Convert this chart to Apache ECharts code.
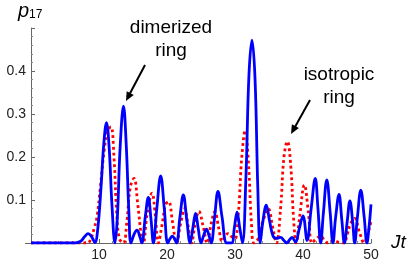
<!DOCTYPE html>
<html>
<head>
<meta charset="utf-8">
<script src="https://cdn.jsdelivr.net/npm/echarts@6/dist/echarts.min.js"></script>
<style>html,body{margin:0;padding:0;background:#fff}#c{width:415px;height:271px}</style>
</head>
<body>
<div id="c"></div>
<script>
// time axis ticks
const xTicks = [10, 20, 30, 40, 50];
const yTicks = [0.1, 0.2, 0.3, 0.4];

// dimerized ring (blue solid): [Jt, p17]
const dimerized = [
  [0,0],[6.5,0],[7.3,0.004],[7.9,0.015],[8.4,0.022],[8.9,0.015],[9.4,0.001],
  [9.8,0.03],[10.3,0.13],[10.7,0.23],[11.1,0.28],[11.5,0.22],[11.9,0.09],[12.35,0],
  [12.7,0.06],[13.1,0.22],[13.6,0.318],[14.0,0.23],[14.4,0.07],[14.7,0],
  [15.2,0.022],[15.6,0.03],[16.0,0.015],[16.3,0],
  [16.8,0.06],[17.25,0.106],[17.65,0.055],[18.0,0],
  [18.5,0.08],[19.07,0.156],[19.6,0.08],[20.1,0],
  [20.45,0.01],[20.8,0.016],[21.1,0.01],[21.4,0],
  [21.9,0.06],[22.4,0.112],[22.9,0.055],[23.4,0],
  [23.8,0.035],[24.2,0.069],[24.6,0.033],[25.0,0],
  [25.4,0.018],[25.8,0.032],[26.2,0.016],[26.5,0],
  [27.0,0.06],[27.5,0.12],[28.1,0.06],[28.8,0],[29.5,0],
  [29.9,0.035],[30.3,0.072],[30.7,0.035],[31.1,0],
  [31.6,0.15],[32.05,0.39],[32.5,0.472],[32.95,0.38],[33.35,0.13],[33.7,0],
  [34.1,0.05],[34.6,0.088],[35.1,0.05],[35.6,0.016],[36.1,0.011],[36.7,0.013],[37.2,0.006],[37.6,0],
  [38.0,0.007],[38.4,0.013],[38.9,0.002],[39.4,0.03],[40.0,0.063],[40.6,0.006],
  [41.2,0.08],[41.8,0.15],[42.2,0.08],[42.6,0],
  [43.0,0.07],[43.5,0.147],[44.0,0.07],[44.4,0],
  [44.8,0.06],[45.3,0.113],[45.7,0.055],[46.1,0],
  [46.5,0.05],[46.9,0.098],[47.3,0.05],[47.6,0],
  [48.0,0.06],[48.5,0.123],[49.0,0.06],[49.4,0],
  [49.7,0.035],[50.0,0.09]
];

// isotropic ring (red dotted): [Jt, p17]
const isotropic = [
  [0,0],[8.3,0],[8.8,0.01],[9.3,0.035],[9.7,0.06],[10.2,0.13],[10.8,0.22],[11.3,0.262],[11.76,0.27],
  [12.2,0.2],[12.6,0.07],[13.0,0.01],[13.6,0],
  [14.1,0.05],[14.6,0.13],[15.15,0.15],[15.7,0.09],[16.2,0.02],[16.5,0],
  [17.1,0.07],[17.8,0.116],[18.3,0.06],[18.7,0],
  [19.3,0.045],[19.8,0.09],[20.25,0.096],[20.8,0.05],[21.4,0],
  [22.0,0.045],[22.6,0.08],[23.1,0.04],[23.6,0],
  [24.1,0.04],[24.7,0.074],[25.3,0.04],[25.9,0],
  [26.5,0.045],[27.05,0.073],[27.6,0.035],[28.1,0.004],
  [28.6,0.018],[29.0,0.022],[29.5,0.015],[30.0,0.01],
  [30.5,0.07],[31.0,0.2],[31.5,0.262],[32.0,0.18],[32.4,0.05],[32.8,0],
  [33.5,0.012],[34.1,0.05],[34.9,0.08],[35.5,0.04],[36.1,0],
  [36.7,0.08],[37.2,0.2],[37.7,0.236],[38.2,0.18],[38.6,0.06],[39.0,0],
  [39.5,0.06],[40.2,0.135],[40.8,0.07],[41.3,0],
  [41.9,0.009],[42.6,0.016],[43.2,0.005],[43.7,0],
  [44.5,0.006],[45.2,0.002],[46.0,0],
  [46.5,0.02],[47.0,0.045],[47.6,0.057],[48.3,0.025],[49.0,0],
  [49.5,0.02],[50.0,0.05]
];

const FONT = '"Liberation Sans", Arial, Helvetica, sans-serif';
const chart = echarts.init(document.getElementById('c'), null, {renderer: 'canvas'});

function arrow(x1, y1, x2, y2) {
  const dx = x2 - x1, dy = y2 - y1, L = Math.hypot(dx, dy);
  const ux = dx / L, uy = dy / L, hl = 9, hw = 4;
  const bx = x2 - ux * hl, by = y2 - uy * hl;
  return [
    {type: 'line', shape: {x1: x1, y1: y1, x2: bx + ux * 2, y2: by + uy * 2}, style: {stroke: '#000', lineWidth: 2}},
    {type: 'polygon', shape: {points: [[x2, y2], [bx - uy * hw, by + ux * hw], [bx + uy * hw, by - ux * hw]]}, style: {fill: '#000'}}
  ];
}

chart.setOption({
  animation: false,
  backgroundColor: '#fff',
  grid: {left: 31, right: 44, top: 28, bottom: 28, containLabel: false},
  xAxis: {
    type: 'value', min: 0, max: 50, interval: 10,
    axisLine: {show: true, onZero: false, lineStyle: {color: '#666', width: 1}},
    axisTick: {show: true, inside: true, length: 4, lineStyle: {color: '#666'}},
    minorTick: {show: true, splitNumber: 5, length: 2, lineStyle: {color: '#888'}},
    splitLine: {show: false},
    axisLabel: {
      color: '#222', fontSize: 14, fontFamily: FONT, margin: 5,
      formatter: v => (xTicks.indexOf(v) >= 0 ? String(v) : '')
    }
  },
  yAxis: {
    type: 'value', min: 0, max: 0.5, interval: 0.1,
    axisLine: {show: true, onZero: false, lineStyle: {color: '#666', width: 1}},
    axisTick: {show: true, inside: true, length: 4, lineStyle: {color: '#666'}},
    minorTick: {show: true, splitNumber: 5, length: 2, lineStyle: {color: '#888'}},
    splitLine: {show: false},
    axisLabel: {
      color: '#222', fontSize: 14, fontFamily: FONT, margin: 5,
      formatter: v => {
        const r = Math.round(v * 10) / 10;
        return yTicks.indexOf(r) >= 0 ? r.toFixed(1) : '';
      }
    }
  },
  series: [
    {
      type: 'line', data: isotropic, smooth: 0.4, showSymbol: false, z: 3,
      lineStyle: {color: '#ff0000', width: 2.8, type: [2.8, 3], cap: 'butt'}
    },
    {
      type: 'line', data: dimerized, smooth: 0.4, showSymbol: false, z: 4,
      lineStyle: {color: '#0000ff', width: 2.8}
    }
  ],
  graphic: [
    {type: 'line', shape: {x1: 25, y1: 243.5, x2: 31, y2: 243.5}, style: {stroke: '#666', lineWidth: 1}},
    {type: 'text', left: 18, top: 1, style: {
      text: '{p|p}{s|17}', fill: '#000',
      rich: {
        p: {fontSize: 20, fontStyle: 'italic', fontFamily: FONT, fill: '#000', verticalAlign: 'bottom'},
        s: {fontSize: 12, fontFamily: FONT, fill: '#000', verticalAlign: 'bottom', padding: [0, 0, 0, 0]}
      }
    }},
    {type: 'text', left: 391, top: 233, style: {text: 'Jt', font: 'italic 19px ' + FONT, fill: '#000'}},
    {type: 'text', x: 171, y: 39, style: {text: 'dimerized\nring', font: '19px ' + FONT, fill: '#000', align: 'center', verticalAlign: 'middle', lineHeight: 23}},
    {type: 'text', x: 339, y: 86, style: {text: 'isotropic\nring', font: '19px ' + FONT, fill: '#000', align: 'center', verticalAlign: 'middle', lineHeight: 23}},
    ...arrow(145, 65, 126, 101),
    ...arrow(310, 100, 291, 134)
  ]
});
</script>
</body>
</html>
